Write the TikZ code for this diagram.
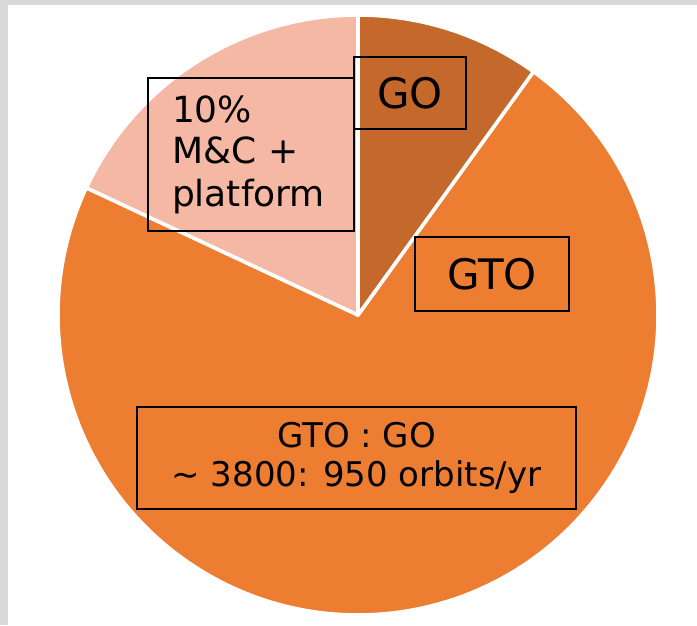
\documentclass[tikz,border=0pt]{standalone}
\usepackage{fontspec}
\setmainfont{DejaVu Sans}
\definecolor{goC}{HTML}{C5682B}
\definecolor{gtoC}{HTML}{ED7D31}
\definecolor{mcC}{HTML}{F4B8A4}
\definecolor{frameC}{HTML}{D9D9D9}
\begin{document}
\begin{tikzpicture}[x=1pt,y=-1pt,
  slice/.style={draw=white,line width=3.6pt,line join=round},
  lbl/.style={draw=black,line width=2.6pt,inner sep=0pt,text=black}]
\useasboundingbox (0,0) rectangle (697,625);
\fill[white] (0,0) rectangle (697,625);
\fill[frameC] (0,0) rectangle (697,5);
\fill[frameC] (0,0) rectangle (8,625);
\coordinate (c) at (358,315);
% slices (angles in flipped frame)
\filldraw[slice,fill=gtoC] (c) -- ++(-54.2:300) arc[start angle=-54.2,end angle=205.1,radius=300] -- cycle;
\filldraw[slice,fill=mcC] (c) -- ++(205.1:300) arc[start angle=205.1,end angle=270,radius=300] -- cycle;
\filldraw[slice,fill=goC] (c) -- ++(270:300) arc[start angle=270,end angle=305.8,radius=300] -- cycle;
% labels
\node[lbl,minimum width=206pt,minimum height=153pt,text width=158pt,inner xsep=24pt,align=left,
  font=\fontsize{36}{43}\selectfont] (mc) at (251,154.5) {\raisebox{-2pt}{10\%}\\M\&C +\\platform};
\node[lbl,minimum width=112pt,minimum height=72pt,font=\fontsize{42}{48}\selectfont] (go) at (410,93) {GO};
\node[lbl,minimum width=154pt,minimum height=74pt,font=\fontsize{42}{48}\selectfont] (gto) at (492,274) {GTO};
\node[lbl,minimum width=439pt,minimum height=102pt,align=center,font=\fontsize{34}{39}\selectfont] (ratio) at (356.5,458)
  {GTO : GO\\\textasciitilde{} 3800: 950 orbits/yr};
\end{tikzpicture}
\end{document}
